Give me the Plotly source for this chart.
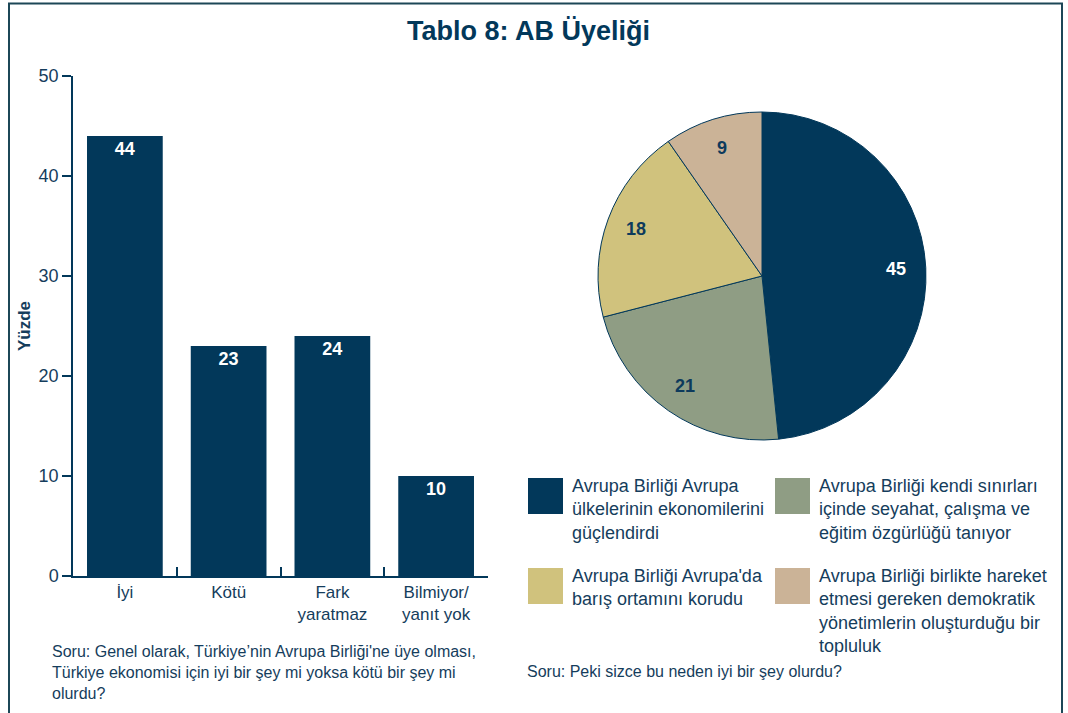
import math
import plotly.graph_objects as go

W, H = 1068, 713

# ---------------- data ----------------
title_text = "Tablo 8: AB Üyeliği"
bar_categories = ["İyi", "Kötü", "Fark<br>yaratmaz", "Bilmiyor/<br>yanıt yok"]
bar_values = [44, 23, 24, 10]
y_ticks = [0, 10, 20, 30, 40, 50]
y_title = "Yüzde"

pie_labels = [
    "Avrupa Birliği Avrupa<br>ülkelerinin ekonomilerini<br>güçlendirdi",
    "Avrupa Birliği kendi sınırları<br>içinde seyahat, çalışma ve<br>eğitim özgürlüğü tanıyor",
    "Avrupa Birliği Avrupa'da<br>barış ortamını korudu",
    "Avrupa Birliği birlikte hareket<br>etmesi gereken demokratik<br>yönetimlerin oluşturduğu bir<br>topluluk",
]
pie_values = [45, 21, 18, 9]
pie_colors = ["#02385a", "#8f9d84", "#d0c27d", "#cbb397"]
pie_text_colors = ["#ffffff", "#0d3a5c", "#0d3a5c", "#0d3a5c"]

note_left = ("Soru: Genel olarak, Türkiye’nin Avrupa Birliği'ne üye olması,<br>"
             "Türkiye ekonomisi için iyi bir şey mi yoksa kötü bir şey mi<br>olurdu?")
note_right = "Soru: Peki sizce bu neden iyi bir şey olurdu?"

# ---------------- style ----------------
NAVY = "#02385a"
TEXT = "#153d5c"
FONT = "Liberation Sans"


def px(x):
    return x / W


def py(y):
    return 1 - y / H


PIE_CX, PIE_CY, PIE_R = 762, 276, 164

fig = go.Figure()

fig.add_trace(go.Bar(
    x=bar_categories, y=bar_values,
    marker=dict(color=NAVY, line=dict(width=0)),
    width=0.73,
    text=bar_values, textposition="inside", insidetextanchor="end",
    textfont=dict(family=FONT, size=18, color="white", weight="bold"),
    textangle=0, cliponaxis=False,
    showlegend=False, hoverinfo="skip",
    xaxis="x", yaxis="y",
))

fig.add_trace(go.Pie(
    labels=pie_labels, values=pie_values, sort=False, direction="clockwise",
    rotation=0,
    marker=dict(colors=pie_colors, line=dict(color=NAVY, width=1)),
    textinfo="none",
    domain=dict(x=[px(PIE_CX - PIE_R), px(PIE_CX + PIE_R)],
                y=[py(PIE_CY + PIE_R), py(PIE_CY - PIE_R)]),
    showlegend=False, hoverinfo="skip",
))

fig.update_layout(
    autosize=True,
    margin=dict(l=0, r=0, t=0, b=0, autoexpand=False),
    paper_bgcolor="white", plot_bgcolor="white",
    font=dict(family=FONT, color=TEXT, size=17),
    xaxis=dict(
        domain=[px(73), px(488)], anchor="y", automargin=False,
        showline=True, linecolor=NAVY, linewidth=1.5,
        ticks="inside", tickson="boundaries", ticklen=9, tickcolor=NAVY, tickwidth=1.5,
        tickfont=dict(family=FONT, size=17, color=TEXT),
        showgrid=False, zeroline=False, fixedrange=True,
    ),
    yaxis=dict(
        domain=[py(576), py(76)], anchor="x", automargin=False,
        range=[0, 50], tickvals=y_ticks,
        showline=True, linecolor=NAVY, linewidth=1.5,
        ticks="outside", ticklen=9, tickcolor=NAVY, tickwidth=1.5,
        tickfont=dict(family=FONT, size=18, color=TEXT),
        title=dict(text=y_title, font=dict(family=FONT, size=17, color=TEXT, weight="bold"),
                   standoff=4),
        showgrid=False, zeroline=False, fixedrange=True,
    ),
)

shapes = []
annotations = []

# frame
shapes.append(dict(type="rect", xref="paper", yref="paper",
                   x0=px(9), x1=px(1062), y0=py(730), y1=py(3.5),
                   line=dict(color="#1c4757", width=2), fillcolor="rgba(0,0,0,0)", layer="above"))

# title
annotations.append(dict(text=f"<b>{title_text}</b>", xref="paper", yref="paper",
                        x=px(528), y=py(31), xanchor="center", yanchor="middle", showarrow=False,
                        font=dict(family=FONT, size=27, color=NAVY)))

# pie value labels, placed at each slice's mid-angle (derived from values)
total = sum(pie_values)
cum = 0
for v, tc in zip(pie_values, pie_text_colors):
    mid = (cum + v / 2) / total * 2 * math.pi
    cum += v
    rr = PIE_R * 0.82
    lx = PIE_CX + rr * math.sin(mid)
    ly = PIE_CY - rr * math.cos(mid)
    annotations.append(dict(text=f"<b>{v}</b>", xref="paper", yref="paper",
                            x=px(lx), y=py(ly), xanchor="center", yanchor="middle",
                            showarrow=False, font=dict(family=FONT, size=18, color=tc)))

# custom legend for pie
leg_pos = [(528, 478), (775, 478), (528, 568), (775, 568)]
for lab, col, (lx, ly) in zip(pie_labels, pie_colors, leg_pos):
    shapes.append(dict(type="rect", xref="paper", yref="paper",
                       x0=px(lx), x1=px(lx + 35), y0=py(ly + 36), y1=py(ly),
                       line=dict(width=0), fillcolor=col))
    annotations.append(dict(text=lab, xref="paper", yref="paper",
                            x=px(lx + 42), y=py(ly - 4), xanchor="left", yanchor="top",
                            align="left", showarrow=False,
                            font=dict(family=FONT, size=18, color=TEXT)))

# notes
annotations.append(dict(text=note_left, xref="paper", yref="paper",
                        x=px(50), y=py(641), xanchor="left", yanchor="top", align="left",
                        showarrow=False, font=dict(family=FONT, size=16, color=TEXT)))
annotations.append(dict(text=note_right, xref="paper", yref="paper",
                        x=px(525), y=py(661), xanchor="left", yanchor="top", align="left",
                        showarrow=False, font=dict(family=FONT, size=16, color=TEXT)))

fig.update_layout(shapes=shapes, annotations=annotations)

fill_window = (
    "var d=document.getElementById('{plot_id}');"
    "document.documentElement.style.margin='0';document.body.style.margin='0';"
    "document.documentElement.style.overflow='hidden';document.body.style.overflow='hidden';"
    "d.style.position='fixed';d.style.left='0px';d.style.top='0px';"
    "d.style.width='100vw';d.style.height='100vh';"
    "Plotly.Plots.resize(d);"
)
fig.write_html("out.html", post_script=fill_window,
               config={"displayModeBar": False, "responsive": True})
